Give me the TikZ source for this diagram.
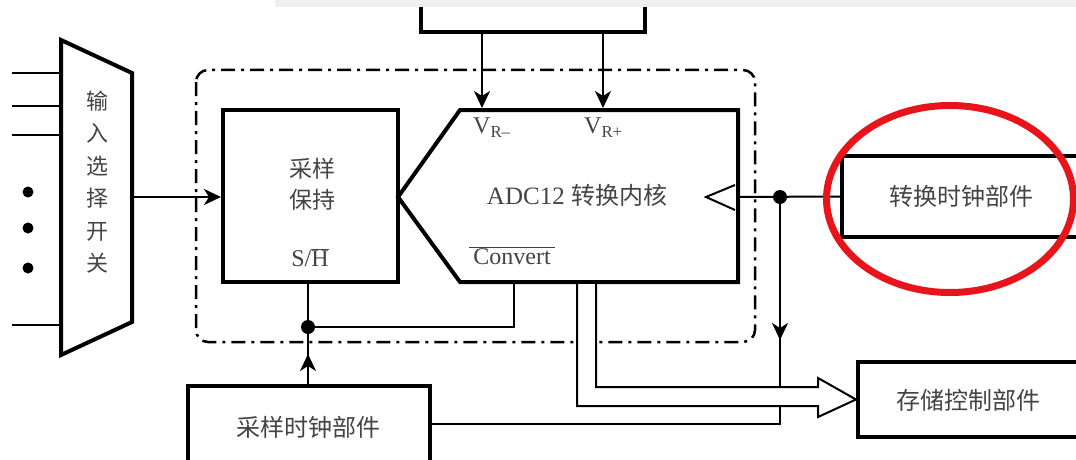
\documentclass[tikz,border=0pt]{standalone}
\usepackage{fontspec}
\setmainfont{Liberation Serif}
\newfontfamily\cjk{Noto Sans CJK SC}
\usetikzlibrary{arrows.meta,calc}
\definecolor{txtgray}{HTML}{444444}
\definecolor{circred}{HTML}{E8141B}
\definecolor{bandgray}{HTML}{F0F0F0}
\tikzset{
  blk/.style={draw=black, line width=4pt, fill=white, inner sep=0pt},
  lbl/.style={text=txtgray, font=\fontsize{24}{28}\selectfont, inner sep=0pt},
  cjklbl/.style={text=txtgray, font=\cjk\fontsize{24}{28}\selectfont, inner sep=0pt},
  wire/.style={line width=2pt},
  arr/.style={wire, -{Stealth[length=17pt,width=16pt,inset=5pt]}},
  frame/.style={line width=2.5pt, rounded corners=12pt, dash pattern=on 14pt off 6pt on 3pt off 6pt},
  dotnode/.style={circle, fill=black, minimum size=14pt, inner sep=0pt},
  smalldot/.style={circle, fill=black, minimum size=11pt, inner sep=0pt},
}
\begin{document}
\begin{tikzpicture}[x=1pt,y=-1pt]
\useasboundingbox (0,0) rectangle (1076,460);

% top (reference) box, cut off by the page edge
\node[blk, minimum width=224pt, minimum height=56pt] (ref) at (533,4) {};
\fill[bandgray] (275,0) rectangle (1076,7);

% dash-dot frame
\draw[frame] (196,70) rectangle (755,342);

% input multiplexer
\coordinate (m1) at (61,40);
\coordinate (m2) at (132,73);
\coordinate (m3) at (132,322);
\coordinate (m4) at (61,355);
\draw[line width=4pt, line join=miter] (m1) -- (m2) -- (m3) -- (m4) -- cycle;
\node[cjklbl, align=center, font=\cjk\fontsize{22}{32.5}\selectfont] (muxt) at (97,182) {输\\入\\选\\择\\开\\关};
\coordinate (i1) at (12,73);
\coordinate (i2) at (12,106);
\coordinate (i3) at (12,135);
\coordinate (i4) at (12,325);
\foreach \i in {i1,i2,i3,i4} \draw[wire] (\i) -- (\i -| m1);
\node[smalldot] (d1) at (28,192) {};
\node[smalldot] (d2) at (28,228) {};
\node[smalldot] (d3) at (28,268) {};

% sample and hold
\node[blk, minimum width=175pt, minimum height=172pt] (sh) at (310.5,196) {};
\node[cjklbl, align=center, font=\cjk\fontsize{23}{31}\selectfont] (sht) at (312,184) {采样\\保持};
\node[lbl] (shl) at (310,258) {\hbox{S/}$\overline{\hbox{H}}$};
\coordinate (mo) at (132,197);
\draw[arr] (mo) -- (sh.west |- mo);

% ADC core
\coordinate (a1) at (398,197);
\coordinate (a2) at (460,110);
\coordinate (a3) at (738,110);
\coordinate (a4) at (738,282);
\coordinate (a5) at (460,282);
\draw[line width=4pt, line join=miter, fill=white] (a1) -- (a2) -- (a3) -- (a4) -- (a5) -- cycle;
\node[lbl, font=\fontsize{25}{28}\selectfont] (adct) at (577,195) {ADC12 {\cjk\fontsize{24}{28}\selectfont 转换内核}};
\node[lbl, anchor=west] (vrm) at (473,128) {V\textsubscript{R\textendash}};
\node[lbl, anchor=west] (vrp) at (584,128) {V\textsubscript{R+}};
\node[lbl] (cvt) at (512,256) {$\overline{\hbox{\,Convert\,}}$};
\coordinate (vm) at (482,108);
\coordinate (vp) at (603,108);
\draw[arr] (ref.south -| vm) -- (vm);
\draw[arr] (ref.south -| vp) -- (vp);
\draw[wire, line join=miter] (735,185) -- (706,197) -- (735,210);

% conversion clock
\node[blk, minimum width=242pt, minimum height=81pt] (clk) at (963,196.5) {};
\node[cjklbl] (clkt) at (961,196) {转换时钟部件};
\coordinate (ck) at (738,197);
\draw[wire] (ck) -- (clk.west);
\node[dotnode] (cd) at (780,197) {};
\coordinate (cdown) at (780,340);
\draw[arr] (cd.center) -- (cdown);

% sampling clock
\node[blk, minimum width=242pt, minimum height=76pt] (sclk) at (309,424) {};
\node[cjklbl] (sclkt) at (308,427) {采样时钟部件};
\draw[wire] (780,336) -- (780,424) -- (sclk.east);

% convert / S-H control
\coordinate (cv) at (514,282);
\node[dotnode] (sd) at (308,327) {};
\draw[wire] (cv) -- (cv |- sd) -- (sd.center);
\draw[wire] (sd |- sh.south) -- (sd.center);
\coordinate (sup) at (308,354);
\draw[arr] (sd |- sclk.north) -- (sup);
\draw[wire] (308,356) -- (sd.center);

% storage control
\node[blk, minimum width=220pt, minimum height=75pt] (mem) at (968,399.5) {};
\node[cjklbl] (memt) at (968,400) {存储控制部件};
\draw[wire, fill=white, line join=miter] (577,284) -- (577,406) -- (818,406) -- (818,417) -- (mem.west) -- (818,378) -- (818,387) -- (596,387) -- (596,284);

% red highlight
\draw[circred, line width=7pt] (950,199) ellipse [x radius=123.5pt, y radius=93.5pt];
\end{tikzpicture}
\end{document}
